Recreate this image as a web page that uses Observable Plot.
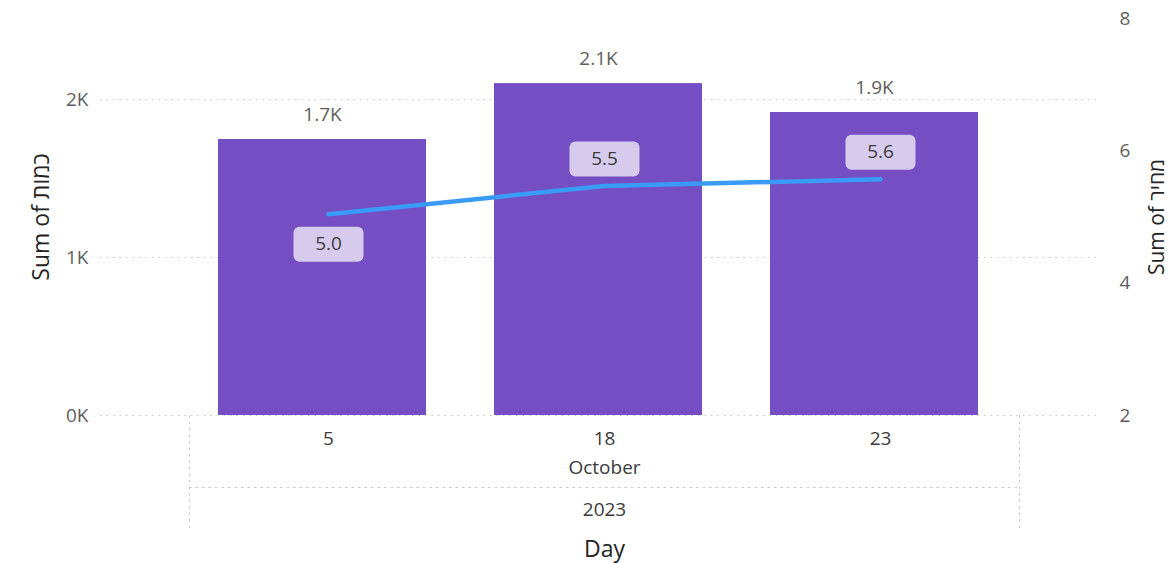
<!DOCTYPE html>
<html>
<head>
<meta charset="utf-8">
<script src="https://cdn.jsdelivr.net/npm/d3@7"></script>
<script src="https://cdn.jsdelivr.net/npm/@observablehq/plot@0.6"></script>
<style>
  body { margin: 0; background: #fff; }
  #wrap { position: relative; width: 1173px; height: 563px; }
  #wrap svg { position: absolute; left: 0; top: 0; }
</style>
</head>
<body>
<div id="wrap"></div>
<script>
// ---- data ----
const days = ["5", "18", "23"];
const quantities = [1747, 2101, 1918];     // Sum of כמות
const prices = [5.04, 5.47, 5.57];          // Sum of מחיר
const monthLabels = ["October"];
const yearLabels = ["2023"];
const qtyTicks = [0, 1000, 2000];
const priceTicks = [2, 4, 6, 8];
const leftTitle = "Sum of כמות";
const rightTitle = "Sum of מחיר";
const xTitle = "Day";

const rows = days.map((d, i) => ({day: d, qty: quantities[i], price: prices[i]}));

// ---- shared layout ----
const W = 1173, H = 563;
const font = "'Open Sans', 'DejaVu Sans', sans-serif";
const margins = {marginTop: 18, marginBottom: 148, marginLeft: 189, marginRight: 154};
const xScale = {type: "band", domain: days, paddingInner: 0.245, paddingOuter: 0.1225};
const grey = "#605E5C";
const dark = "#252423";
const mid = "#3B3A39";
const gridStroke = "#C8C6C4";
const tickFont = 19;
const titleFont = 23;

const roundRect = {
  draw(ctx) {
    const w = 70, h = 35, r = 6;
    const x0 = -w / 2, y0 = -h / 2, x1 = w / 2, y1 = h / 2;
    ctx.moveTo(x0 + r, y0);
    ctx.lineTo(x1 - r, y0);
    ctx.arcTo(x1, y0, x1, y0 + r, r);
    ctx.lineTo(x1, y1 - r);
    ctx.arcTo(x1, y1, x1 - r, y1, r);
    ctx.lineTo(x0 + r, y1);
    ctx.arcTo(x0, y1, x0, y1 - r, r);
    ctx.lineTo(x0, y0 + r);
    ctx.arcTo(x0, y0, x0 + r, y0, r);
    ctx.closePath();
  }
};

const fmtK = d => d === 0 ? "0K" : (d / 1000).toFixed(d % 1000 === 0 ? 0 : 1) + "K";
const dotted = {stroke: gridStroke, strokeDasharray: "1.5,5"};

// ---- bars (left axis) ----
const bars = Plot.plot({
  width: W, height: H, ...margins,
  style: {fontFamily: font, fontSize: tickFont + "px", color: grey, background: "transparent"},
  x: {...xScale, label: null},
  y: {domain: [0, 2513], label: null},
  marks: [
    Plot.gridY(qtyTicks, {...dotted, strokeOpacity: 1, insetLeft: -89, insetRight: -81}),
    Plot.barY(rows, {x: "day", y: "qty", fill: "#744EC2", dx: -6}),
    Plot.text(rows, {x: "day", y: "qty", text: d => fmtK(Math.round(d.qty / 100) * 100), dy: -25, dx: -6, fill: grey, fontSize: tickFont}),
    Plot.axisY({ticks: qtyTicks, tickFormat: fmtK, tickSize: 0, tickPadding: 101, label: null, fill: grey, fontSize: tickFont}),
    Plot.axisX({tickSize: 0, tickPadding: 16, label: null, fill: mid, fontSize: tickFont}),
    Plot.frame({anchor: "left", insetTop: 397, insetBottom: -112, ...dotted}),
    Plot.frame({anchor: "right", insetTop: 397, insetBottom: -112, ...dotted}),
    Plot.frame({anchor: "bottom", insetBottom: -72, ...dotted}),
    Plot.text(monthLabels, {frameAnchor: "bottom", lineAnchor: "middle", dy: 52, text: d => d, fill: mid, fontSize: tickFont}),
    Plot.text(yearLabels, {frameAnchor: "bottom", lineAnchor: "middle", dy: 94, text: d => d, fill: mid, fontSize: tickFont}),
    Plot.text([xTitle], {frameAnchor: "bottom", lineAnchor: "middle", dy: 134, text: d => d, fill: dark, fontSize: titleFont}),
    Plot.text([leftTitle], {frameAnchor: "left", textAnchor: "middle", lineAnchor: "middle", dx: -148, rotate: -90, text: d => d, fill: dark, fontSize: titleFont})
  ]
});

// ---- line (right axis) ----
// first label sits below the line, the others above
const labelOffset = d => (d.day === days[0] ? 30 : -27);
const line = Plot.plot({
  width: W, height: H, ...margins,
  style: {fontFamily: font, fontSize: tickFont + "px", color: grey, background: "transparent"},
  x: {...xScale, label: null, axis: null},
  y: {domain: [2, 8], label: null, axis: null},
  marks: [
    Plot.line(rows, {x: "day", y: "price", stroke: "#3A9BF7", strokeWidth: 4.5, strokeLinecap: "round"}),
    ...rows.map(r => Plot.dot([r], {x: "day", y: "price", symbol: roundRect, fill: "#D6CBEC", r: 10, dy: labelOffset(r)})),
    ...rows.map(r => Plot.text([r], {x: "day", y: "price", text: d => d.price.toFixed(1), dy: labelOffset(r), fill: mid, fontSize: tickFont})),
    Plot.axisY({anchor: "right", ticks: priceTicks, tickFormat: d => String(d), tickSize: 0, tickPadding: 100, label: null, fill: grey, fontSize: tickFont}),
    Plot.text([rightTitle], {frameAnchor: "right", textAnchor: "middle", lineAnchor: "middle", dx: 138, rotate: -90, text: d => d, fill: dark, fontSize: 21})
  ]
});

const wrap = document.getElementById("wrap");
wrap.appendChild(bars);
wrap.appendChild(line);
</script>
</body>
</html>
